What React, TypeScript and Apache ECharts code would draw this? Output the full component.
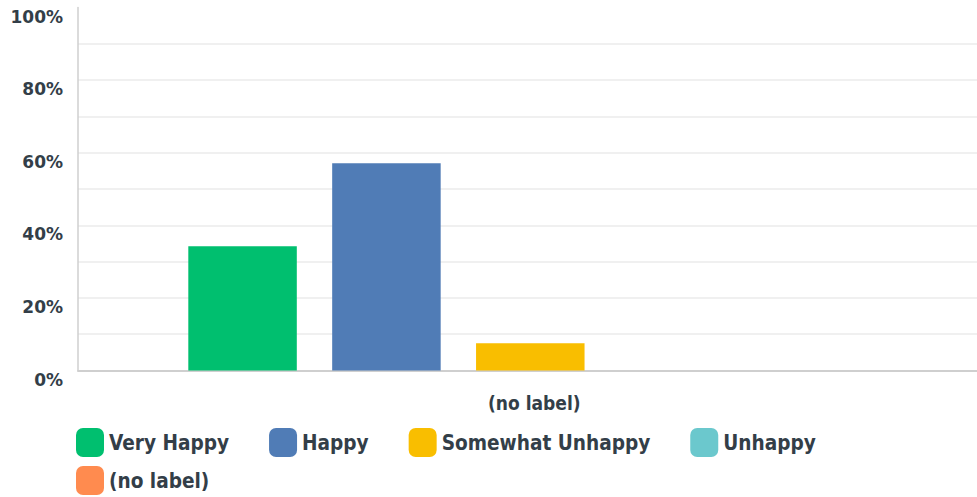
import React, { useEffect, useRef } from "react";
import * as echarts from "echarts";

const categories = ["(no label)"];
const seriesNames = ["Very Happy", "Happy", "Somewhat Unhappy", "Unhappy", "(no label)"];
const seriesValues = [[34.2], [57.1], [7.5], [0], [0]];
const seriesColors = ["#00bf6f", "#507cb6", "#f9be00", "#6bc8cd", "#ff8b4f"];
const yTicks = [0, 20, 40, 60, 80, 100];

const TEXT = "#333e48";
const FONT = "'DejaVu Sans Condensed', 'DejaVu Sans', sans-serif";

export default function App() {
  const ref = useRef<HTMLDivElement>(null);
  useEffect(() => {
    if (!ref.current) return;
    const chart = echarts.init(ref.current, undefined, { renderer: "svg" });
    chart.setOption({
      animation: false,
      grid: { left: 78, right: 7.4, top: 7.5, bottom: 126.5, containLabel: false },
      legend: [
        {
          data: seriesNames.slice(0, 4),
          left: 76,
          top: 428,
          padding: 0,
          itemGap: 40,
          itemWidth: 28,
          itemHeight: 29,
          icon: "roundRect",
          textStyle: { color: TEXT, fontFamily: FONT, fontWeight: "bold", fontSize: 20.6 },
        },
        {
          data: seriesNames.slice(4),
          left: 76,
          top: 466,
          padding: 0,
          itemWidth: 28,
          itemHeight: 29,
          icon: "roundRect",
          textStyle: { color: TEXT, fontFamily: FONT, fontWeight: "bold", fontSize: 20.6 },
        },
      ],
      xAxis: {
        type: "category",
        data: categories,
        axisLine: { show: true, lineStyle: { color: "#cfcfcf", width: 2 } },
        axisTick: { show: false },
        axisLabel: {
          color: TEXT,
          fontFamily: FONT,
          fontWeight: "bold",
          fontSize: 19,
          margin: 23,
          padding: [0, 0, 0, 8],
        },
      },
      yAxis: {
        type: "value",
        min: 0,
        max: 100,
        interval: 10,
        axisLine: { show: true, lineStyle: { color: "#cfcfcf", width: 1.5 } },
        axisTick: { show: false },
        splitLine: { show: true, showMaxLine: false, lineStyle: { color: "#ebebeb", width: 1.5 } },
        axisLabel: {
          color: TEXT,
          fontFamily: "'DejaVu Sans', sans-serif",
          fontWeight: "bold",
          fontSize: 17,
          margin: 15,
          verticalAlign: "top",
          lineHeight: 18,
          formatter: (v: number) => (yTicks.includes(v) ? v + "%" : ""),
        },
      },
      series: seriesNames.map((name, i) => ({
        name,
        type: "bar",
        data: seriesValues[i],
        barWidth: 108.5,
        barGap: "32.6%",
        itemStyle: { color: seriesColors[i] },
      })),
    });
    return () => chart.dispose();
  }, []);
  return (
    <div
      ref={ref}
      style={{ position: "fixed", left: 0, top: 0, width: 990, height: 497, background: "#fff" }}
    />
  );
}
